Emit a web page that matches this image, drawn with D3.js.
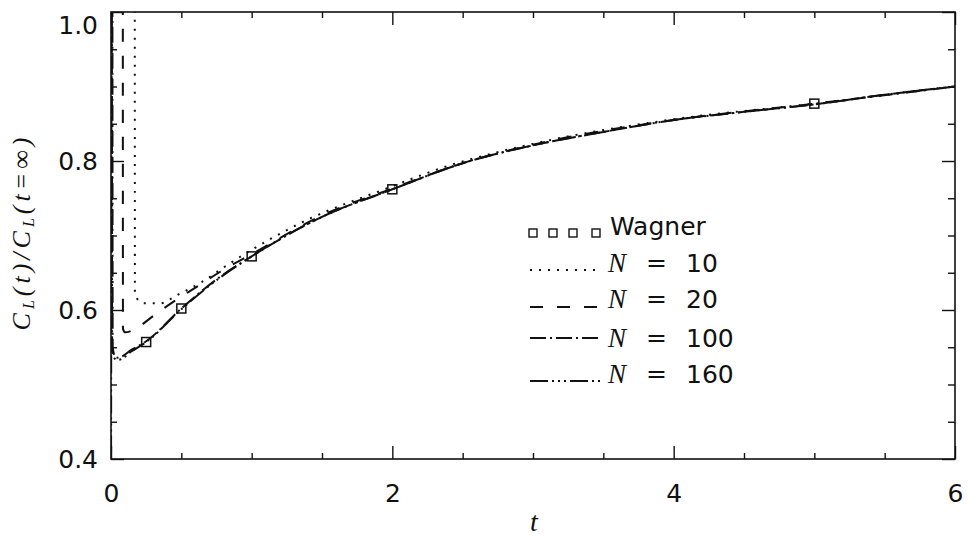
<!DOCTYPE html>
<html>
<head>
<meta charset="utf-8">
<script src="https://cdn.jsdelivr.net/npm/d3@7"></script>
<style>
  body { margin: 0; background: #fff; }
  .tick text { font-family: "DejaVu Sans", sans-serif; font-size: 25px; fill: #111; }
  .tick line { stroke: #111; stroke-width: 1.4px; }
</style>
</head>
<body>
<div id="chart"></div>
<script>
// values: t and C_L(t)/C_L(t=inf)
var wagnerT = [0.25, 0.5, 1, 2, 5];
var wagnerV = [0.557, 0.602, 0.672, 0.762, 0.877];

var n10T = [0.169, 0.17, 0.23, 0.35, 0.47, 0.65, 0.8, 0.95, 1.34, 2, 2.34, 3, 4, 5, 6];
var n10V = [1.05, 0.62, 0.609, 0.609, 0.62, 0.638, 0.657, 0.675, 0.716, 0.766, 0.79, 0.823, 0.856, 0.877, 0.9];

var n20T = [0.084, 0.085, 0.1, 0.2, 0.3, 0.45, 0.6, 0.8, 1, 1.5, 2, 2.5, 3, 4, 5, 6];
var n20V = [1.05, 0.575, 0.57, 0.578, 0.592, 0.612, 0.63, 0.654, 0.675, 0.727, 0.763, 0.797, 0.822, 0.855, 0.877, 0.9];

var n100T = [0.01, 0.012, 0.03, 0.05, 0.15, 0.25, 0.5, 0.75, 1, 1.5, 2, 2.5, 3, 3.5, 4, 4.5, 5, 5.5, 6];
var n100V = [1.05, 0.55, 0.537, 0.536, 0.547, 0.558, 0.602, 0.641, 0.672, 0.725, 0.762, 0.797, 0.821, 0.839, 0.855, 0.866, 0.876, 0.889, 0.9];

var n160T = [0, 0.006, 0.008, 0.025, 0.05, 0.15, 0.25, 0.5, 0.75, 1, 1.5, 2, 2.5, 3, 3.5, 4, 4.5, 5, 5.5, 6];
var n160V = [0.3, 1.05, 0.545, 0.535, 0.533, 0.545, 0.557, 0.601, 0.64, 0.672, 0.725, 0.762, 0.797, 0.821, 0.839, 0.855, 0.866, 0.876, 0.889, 0.9];

var xMajor = [0, 2, 4, 6];
var yMajor = [0.4, 0.6, 0.8, 1.0];

// set the dimensions and margins of the graph
var margin = {top: 12, right: 14, bottom: 77, left: 111},
    width = 969 - margin.left - margin.right,
    height = 536 - margin.top - margin.bottom;

var svg = d3.select("#chart")
  .append("svg")
    .attr("width", 969)
    .attr("height", 536)
  .append("g")
    .attr("transform", "translate(" + margin.left + "," + margin.top + ")");

var x = d3.scaleLinear().domain([0, 6]).range([0, width]);
var y = d3.scaleLinear().domain([0.4, 1.0]).range([height, 0]);

var xMinor = d3.range(0, 6.001, 0.5).filter(function(d) { return d % 2 !== 0; });
var yMinor = d3.range(0.4, 1.0001, 0.05).filter(function(d) { return Math.abs(d * 5 - Math.round(d * 5)) > 1e-6; });

// bottom axis with labels, ticks pointing in
svg.append("g")
  .attr("transform", "translate(0," + height + ")")
  .call(d3.axisBottom(x).tickValues(xMajor).tickSizeInner(-13).tickSizeOuter(0).tickPadding(25).tickFormat(d3.format("d")))
  .call(function(g) { g.select(".domain").remove(); });
svg.append("g")
  .attr("transform", "translate(0," + height + ")")
  .call(d3.axisBottom(x).tickValues(xMinor).tickSizeInner(-6).tickSizeOuter(0).tickFormat(""))
  .call(function(g) { g.select(".domain").remove(); });

// top axis, ticks only
svg.append("g")
  .call(d3.axisTop(x).tickValues(xMajor).tickSizeInner(-13).tickSizeOuter(0).tickFormat(""))
  .call(function(g) { g.select(".domain").remove(); });
svg.append("g")
  .call(d3.axisTop(x).tickValues(xMinor).tickSizeInner(-6).tickSizeOuter(0).tickFormat(""))
  .call(function(g) { g.select(".domain").remove(); });

// left axis with labels
var left = svg.append("g")
  .call(d3.axisLeft(y).tickValues(yMajor).tickSizeInner(-13).tickSizeOuter(0).tickPadding(13).tickFormat(d3.format(".1f")))
  .call(function(g) { g.select(".domain").remove(); });
// top label sits a bit lower in the original
left.selectAll(".tick text").filter(function(d) { return d === 1.0; }).attr("dy", "0.85em");
svg.append("g")
  .call(d3.axisLeft(y).tickValues(yMinor).tickSizeInner(-6).tickSizeOuter(0).tickFormat(""))
  .call(function(g) { g.select(".domain").remove(); });

// right axis, ticks only
svg.append("g")
  .attr("transform", "translate(" + width + ",0)")
  .call(d3.axisRight(y).tickValues(yMajor).tickSizeInner(-13).tickSizeOuter(0).tickFormat(""))
  .call(function(g) { g.select(".domain").remove(); });
svg.append("g")
  .attr("transform", "translate(" + width + ",0)")
  .call(d3.axisRight(y).tickValues(yMinor).tickSizeInner(-7).tickSizeOuter(0).tickFormat(""))
  .call(function(g) { g.select(".domain").remove(); });

// frame
svg.append("rect")
  .attr("width", width)
  .attr("height", height)
  .attr("fill", "none")
  .attr("stroke", "#111")
  .attr("stroke-width", 1.6);

// clip for curves
svg.append("clipPath").attr("id", "clip")
  .append("rect").attr("x", 0).attr("y", 0).attr("width", width).attr("height", height);

var line = d3.line()
  .curve(d3.curveMonotoneX)
  .x(function(d) { return x(d[0]); })
  .y(function(d) { return y(d[1]); });

var series = [
  {name: "10",  t: n10T,  v: n10V,  dash: "2,7"},
  {name: "20",  t: n20T,  v: n20V,  dash: "13,14"},
  {name: "100", t: n100T, v: n100V, dash: "16,4,2,4"},
  {name: "160", t: n160T, v: n160V, dash: "18,4,2,4,2,4,2,4"}
];

var curves = svg.append("g").attr("clip-path", "url(#clip)");
series.forEach(function(s) {
  curves.append("path")
    .datum(s.t.map(function(t, i) { return [t, s.v[i]]; }))
    .attr("d", line)
    .attr("fill", "none")
    .attr("stroke", "#111")
    .attr("stroke-width", 2)
    .attr("stroke-dasharray", s.dash);
});

// Wagner squares
svg.append("g").selectAll("rect")
  .data(wagnerT.map(function(t, i) { return [t, wagnerV[i]]; }))
  .enter()
  .append("rect")
    .attr("x", function(d) { return x(d[0]) - 4.5; })
    .attr("y", function(d) { return y(d[1]) - 4.5; })
    .attr("width", 9)
    .attr("height", 9)
    .attr("fill", "none")
    .attr("stroke", "#111")
    .attr("stroke-width", 1.5);

// legend
var legend = svg.append("g").attr("transform", "translate(" + (530 - margin.left) + "," + (0 - margin.top) + ")");
[0, 20, 40, 63].forEach(function(dx) {
  legend.append("rect")
    .attr("x", dx - 1).attr("y", 229).attr("width", 8).attr("height", 8)
    .attr("fill", "none").attr("stroke", "#111").attr("stroke-width", 1.4);
});
legend.append("text")
  .attr("x", 80).attr("y", 235)
  .style("font-family", "DejaVu Sans").style("font-size", "25px").style("fill", "#111")
  .text("Wagner");

var legendY = [270, 307, 338, 381];
var textY = [272, 308, 347, 383];
series.forEach(function(s, i) {
  legend.append("line")
    .attr("x1", 0).attr("x2", 72)
    .attr("y1", legendY[i]).attr("y2", legendY[i])
    .attr("stroke", "#111").attr("stroke-width", 1.8)
    .attr("stroke-dasharray", s.dash);
  legend.append("text")
    .attr("x", 78).attr("y", textY[i])
    .style("font-family", "Liberation Serif").style("font-style", "italic")
    .style("font-size", "27px").style("fill", "#111")
    .text("N");
  legend.append("text")
    .attr("x", 116).attr("y", textY[i] - 1)
    .style("font-family", "DejaVu Sans").style("font-size", "25px").style("fill", "#111")
    .text("=");
  legend.append("text")
    .attr("x", 156).attr("y", textY[i])
    .style("font-family", "DejaVu Sans").style("font-size", "25px").style("fill", "#111")
    .text(s.name);
});

// x label
svg.append("text")
  .attr("x", x(3) + 1)
  .attr("y", 531 - margin.top)
  .attr("text-anchor", "middle")
  .style("font-family", "Liberation Serif").style("font-style", "italic")
  .style("font-size", "28px").style("fill", "#111")
  .text("t");

// y label
var ylab = svg.append("text")
  .attr("transform", "translate(" + (30 - margin.left) + "," + (232 - margin.top) + ") rotate(-90)")
  .attr("text-anchor", "middle")
  .style("font-family", "Liberation Serif").style("font-style", "italic")
  .style("font-size", "26px").style("letter-spacing", "4px").style("fill", "#111");
ylab.append("tspan").text("C");
ylab.append("tspan").attr("dy", 4).style("font-size", "16px").text("L");
ylab.append("tspan").attr("dy", -4).text("(t)/C");
ylab.append("tspan").attr("dy", 4).style("font-size", "16px").text("L");
ylab.append("tspan").attr("dy", -4).text("(t=\u221e)");
</script>
</body>
</html>
